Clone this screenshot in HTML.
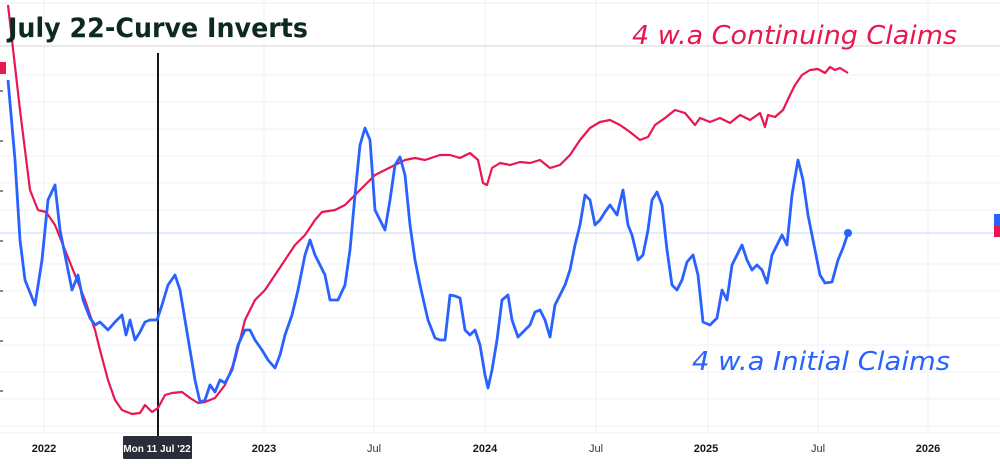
<!DOCTYPE html>
<html><head><meta charset="utf-8"><style>
body{margin:0;width:1000px;height:459px;background:#fff;overflow:hidden;font-family:"Liberation Sans","DejaVu Sans",sans-serif}
</style></head><body>
<svg width="1000" height="459" xmlns="http://www.w3.org/2000/svg">
<g stroke="#f0f1f4" stroke-width="1">
<line x1="44" y1="0" x2="44" y2="432"/><line x1="264" y1="0" x2="264" y2="432"/><line x1="374" y1="0" x2="374" y2="432"/><line x1="485" y1="0" x2="485" y2="432"/><line x1="596" y1="0" x2="596" y2="432"/><line x1="708" y1="0" x2="708" y2="432"/><line x1="818" y1="0" x2="818" y2="432"/><line x1="928" y1="0" x2="928" y2="432"/>
<line x1="0" y1="75" x2="1000" y2="75"/><line x1="0" y1="102" x2="1000" y2="102"/><line x1="0" y1="129" x2="1000" y2="129"/><line x1="0" y1="156" x2="1000" y2="156"/><line x1="0" y1="183" x2="1000" y2="183"/><line x1="0" y1="210" x2="1000" y2="210"/><line x1="0" y1="264" x2="1000" y2="264"/><line x1="0" y1="291" x2="1000" y2="291"/><line x1="0" y1="318" x2="1000" y2="318"/><line x1="0" y1="345" x2="1000" y2="345"/><line x1="0" y1="372" x2="1000" y2="372"/><line x1="0" y1="399" x2="1000" y2="399"/><line x1="0" y1="426" x2="1000" y2="426"/>
</g>
<line x1="0" y1="3" x2="1000" y2="3" stroke="#eee"/>
<line x1="0" y1="46" x2="1000" y2="46" stroke="#d4d6dc" stroke-width="1"/>
<line x1="0" y1="233" x2="1000" y2="233" stroke="#c5d9f5" stroke-width="1"/>
<line x1="0" y1="433" x2="1000" y2="433" stroke="#eee"/>
<rect x="0" y="62" width="6" height="12" fill="#e8174f"/>
<rect x="994" y="214" width="6" height="12" fill="#2962ff"/>
<rect x="994" y="226" width="6" height="11" fill="#e8174f"/>
<g fill="#888"><rect x="0" y="90" width="3" height="2"/><rect x="0" y="140" width="3" height="2"/><rect x="0" y="190" width="3" height="2"/><rect x="0" y="240" width="3" height="2"/><rect x="0" y="290" width="3" height="2"/><rect x="0" y="340" width="3" height="2"/><rect x="0" y="390" width="3" height="2"/></g>
<line x1="158" y1="53" x2="158" y2="437" stroke="#131722" stroke-width="2"/>
<polyline fill="none" stroke="#e8174f" stroke-width="2.2" stroke-linejoin="round" points="8,5 12,40 20,110 30,190 38,210 46,212 55,225 65,250 75,275 85,300 95,330 100,350 108,380 115,400 122,410 132,414 140,413 145,405 152,412 158,408 165,395 172,393 182,392 190,398 198,403 205,402 215,398 225,385 235,360 245,320 255,300 265,290 275,275 285,260 295,245 305,235 315,220 322,212 335,210 345,205 355,195 365,185 375,175 385,170 395,165 405,160 415,158 425,160 440,155 450,155 460,158 470,153 478,160 483,183 487,185 492,168 500,163 510,165 520,162 530,163 540,160 550,168 560,165 570,155 580,140 590,128 600,122 610,120 620,125 630,132 640,140 648,137 655,125 665,118 675,110 685,113 695,125 700,118 710,122 720,118 730,123 740,115 750,120 760,113 765,127 768,115 775,117 783,110 790,95 795,85 802,75 810,70 818,69 825,73 830,67 835,70 840,68 848,73"/>
<polyline fill="none" stroke="#2962ff" stroke-width="2.8" stroke-linejoin="round" points="8,80 15,160 20,240 25,280 35,305 42,260 48,200 55,185 60,230 66,260 72,290 78,275 83,300 90,318 95,325 100,322 108,330 115,322 122,315 126,335 130,320 135,340 140,332 145,322 150,320 157,320 162,305 168,285 175,275 180,290 185,320 190,350 195,380 200,402 205,400 210,385 215,392 220,380 225,383 232,370 238,345 245,330 250,330 255,340 262,350 268,360 275,368 280,355 285,335 292,315 298,290 305,255 310,240 315,255 320,265 325,275 330,300 338,300 345,285 350,250 355,195 360,145 365,128 370,140 375,210 380,220 385,230 390,200 395,165 400,157 405,175 410,225 415,260 420,285 428,320 435,338 440,340 445,340 450,295 455,296 460,298 465,330 470,335 475,330 480,345 485,375 488,388 492,370 497,340 502,300 508,295 512,320 518,337 525,330 530,325 535,312 540,310 545,320 550,337 555,305 560,295 565,285 570,270 575,245 580,225 585,195 590,200 595,225 600,220 605,212 610,205 617,215 623,190 628,225 632,235 638,260 643,255 648,230 652,200 657,192 662,205 667,250 672,285 677,290 682,280 687,262 693,255 698,275 703,322 710,325 717,318 722,290 727,300 732,265 737,255 742,245 747,260 752,270 757,265 762,270 767,283 772,255 777,245 782,235 787,245 792,195 798,160 803,180 808,215 813,240 820,275 825,283 832,282 838,260 843,248 848,233"/>
<circle cx="848" cy="233" r="4" fill="#2962ff"/>
<text x="8" y="37" font-size="27" font-weight="bold" fill="#0d2a1f" font-family="DejaVu Sans, sans-serif" textLength="300" lengthAdjust="spacingAndGlyphs">July 22-Curve Inverts</text>
<text x="632" y="44" font-size="26" fill="#e8174f" font-style="italic" font-family="DejaVu Sans, sans-serif" textLength="325" lengthAdjust="spacingAndGlyphs">4 w.a Continuing Claims</text>
<text x="692" y="370" font-size="26" fill="#2962ff" font-style="italic" font-family="DejaVu Sans, sans-serif" textLength="258" lengthAdjust="spacingAndGlyphs">4 w.a Initial Claims</text>
<g font-size="11" font-weight="bold" fill="#131722" text-anchor="middle">
<text x="44" y="452">2022</text><text x="264" y="452">2023</text><text x="485" y="452">2024</text><text x="706" y="452">2025</text><text x="928" y="452">2026</text>
</g>
<g font-size="11" fill="#333" text-anchor="middle"><text x="374" y="452">Jul</text><text x="596" y="452">Jul</text><text x="818" y="452">Jul</text></g>
<rect x="123" y="436" width="69" height="23" fill="#2a2e39" rx="1"/>
<text x="157" y="452" font-size="10" fill="#fff" text-anchor="middle" font-weight="bold">Mon 11 Jul '22</text>
</svg>
</body></html>
